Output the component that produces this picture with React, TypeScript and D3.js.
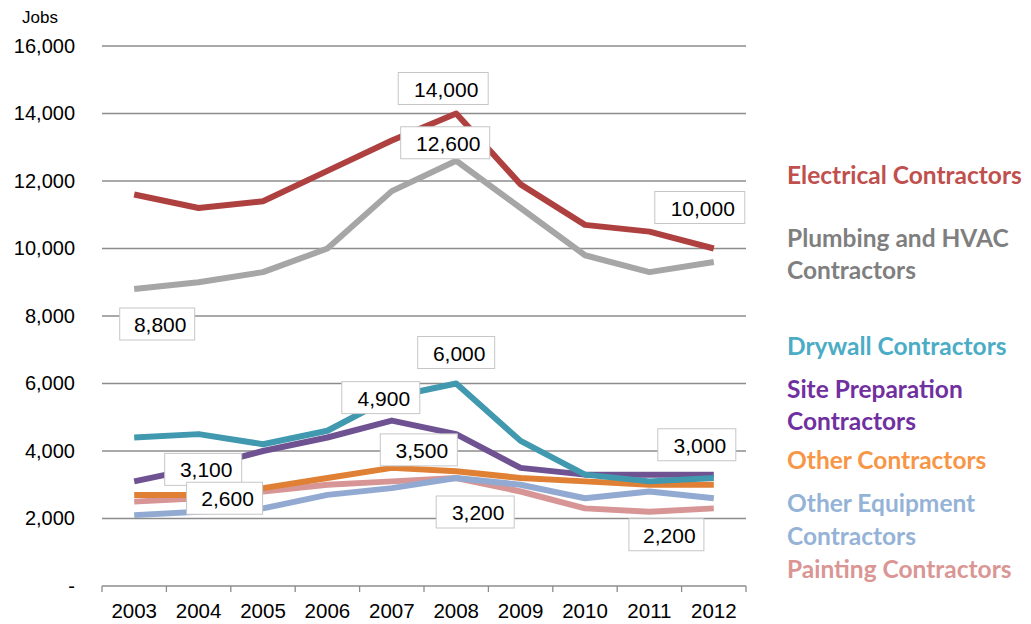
import React from "react";
import * as d3 from "d3";

const years = ["2003", "2004", "2005", "2006", "2007", "2008", "2009", "2010", "2011", "2012"];
const yTicks = [0, 2000, 4000, 6000, 8000, 10000, 12000, 14000, 16000];

const electrical = [11600, 11200, 11400, 12300, 13200, 14000, 11900, 10700, 10500, 10000];
const plumbing = [8800, 9000, 9300, 10000, 11700, 12600, 11200, 9800, 9300, 9600];
const drywall = [4400, 4500, 4200, 4600, 5600, 6000, 4300, 3300, 3100, 3200];
const sitePrep = [3100, 3500, 4000, 4400, 4900, 4500, 3500, 3300, 3300, 3300];
const otherContr = [2700, 2700, 2900, 3200, 3500, 3400, 3200, 3100, 3000, 3000];
const otherEquip = [2100, 2200, 2300, 2700, 2900, 3200, 3000, 2600, 2800, 2600];
const painting = [2500, 2600, 2800, 3000, 3100, 3200, 2800, 2300, 2200, 2300];

const seriesNames = [
  "Electrical Contractors",
  "Plumbing and HVAC Contractors",
  "Drywall Contractors",
  "Site Preparation Contractors",
  "Other Contractors",
  "Other Equipment Contractors",
  "Painting Contractors",
];
const seriesValues = [electrical, plumbing, drywall, sitePrep, otherContr, otherEquip, painting];
const lineColors = ["#AE413F", "#A6A6A6", "#4099AF", "#6E5291", "#DF8035", "#92AAD2", "#D79695"];
const legendColors = ["#C0504D", "#7F7F7F", "#4BACC6", "#7030A0", "#F79646", "#95B3D7", "#DA9694"];
// legend lines (text split) and their vertical centers
const legendLines = [
  ["Electrical Contractors"],
  ["Plumbing and HVAC", "Contractors"],
  ["Drywall Contractors"],
  ["Site Preparation", "Contractors"],
  ["Other Contractors"],
  ["Other Equipment", "Contractors"],
  ["Painting Contractors"],
];
const legendY = [[176], [239, 271], [347], [390, 422], [461], [504, 537], [570]];

// data labels: series index, year index, offset of box center from point
const dataLabels = [
  { s: 0, i: 5, dx: -13, dy: -25, w: 90 },
  { s: 1, i: 5, dx: -11, dy: -18, w: 89 },
  { s: 0, i: 9, dx: -14, dy: -41, w: 90 },
  { s: 1, i: 0, dx: 23, dy: 35, w: 75 },
  { s: 2, i: 5, dx: 0, dy: -31, w: 77 },
  { s: 3, i: 4, dx: -11, dy: -23, w: 78 },
  { s: 4, i: 4, dx: 27, dy: -18, w: 77 },
  { s: 3, i: 0, dx: 69, dy: -12, w: 77 },
  { s: 6, i: 1, dx: 26, dy: 0, w: 76 },
  { s: 6, i: 5, dx: 19, dy: 34, w: 78 },
  { s: 4, i: 9, dx: -17, dy: -40, w: 78 },
  { s: 6, i: 8, dx: 17, dy: 23, w: 75 },
];

const W = 1031;
const H = 624;
const left = 102;
const right = 746;
const top = 46;
const bottom = 586;

export default function App() {
  const x = d3.scaleBand<string>().domain(years).range([left, right]);
  const y = d3.scaleLinear().domain([0, 16000]).range([bottom, top]);
  const cx = (i: number) => (x(years[i]) as number) + x.bandwidth() / 2;
  const line = d3
    .line<number>()
    .x((_, i) => cx(i))
    .y((v) => y(v));
  const fmt = d3.format(",");
  const boundaries = years.map((yr) => x(yr) as number).concat([right]);

  return (
    <svg width={W} height={H} style={{ position: "absolute", left: 0, top: 0, background: "#fff" }}>
      {/* gridlines */}
      {yTicks.map((t) =>
        t === 0 ? null : (
          <line key={t} x1={left} x2={right} y1={y(t)} y2={y(t)} stroke="#8C8C8C" strokeWidth={1.3} />
        )
      )}
      {/* y labels */}
      <g fontFamily="'Liberation Sans', Arial, sans-serif" fill="#000">
        <text x={58} y={23} textAnchor="end" fontSize={17}>Jobs</text>
        {yTicks.map((t) => (
          <text key={t} x={75} y={y(t) + 6.5} textAnchor="end" fontSize={20}>
            {t === 0 ? "-" : fmt(t)}
          </text>
        ))}
      </g>
      {/* x axis */}
      <line x1={left} x2={right} y1={bottom} y2={bottom} stroke="#8C8C8C" strokeWidth={1.3} />
      {boundaries.map((b, i) => (
        <line key={i} x1={b} x2={b} y1={bottom} y2={bottom + 6} stroke="#8C8C8C" strokeWidth={1.3} />
      ))}
      <g fontFamily="'Liberation Sans', Arial, sans-serif" fontSize={20.5} fill="#000">
        {years.map((yr, i) => (
          <text key={yr} x={cx(i)} y={618} textAnchor="middle">
            {yr}
          </text>
        ))}
      </g>
      {/* lines: draw bottom series first */}
      {seriesValues
        .map((vals, s) => ({ vals, s }))
        .reverse()
        .map(({ vals, s }) => (
          <path
            key={s}
            d={line(vals) as string}
            fill="none"
            stroke={lineColors[s]}
            strokeWidth={6}
            strokeLinejoin="round"
            strokeLinecap="butt"
          />
        ))}
      {/* data labels */}
      <g fontFamily="'Liberation Sans', Arial, sans-serif" fontSize={21} fill="#000">
        {dataLabels.map((d, k) => {
          const px = cx(d.i) + d.dx;
          const py = y(seriesValues[d.s][d.i]) + d.dy;
          const h = 32;
          return (
            <g key={k}>
              <rect x={px - d.w / 2} y={py - h / 2} width={d.w} height={h} fill="#fff" stroke="#C6C6C6" strokeWidth={1} />
              <text x={px + 3} y={py + 8} textAnchor="middle">
                {fmt(seriesValues[d.s][d.i])}
              </text>
            </g>
          );
        })}
      </g>
      {/* legend */}
      <g fontFamily="Lato, 'Open Sans', sans-serif" fontWeight={700} fontSize={24.5}>
        {legendLines.map((lines, s) =>
          lines.map((t, j) => (
            <text key={s + "-" + j} x={787} y={legendY[s][j] + 8} fill={legendColors[s]}>
              {t}
            </text>
          ))
        )}
      </g>
    </svg>
  );
}
